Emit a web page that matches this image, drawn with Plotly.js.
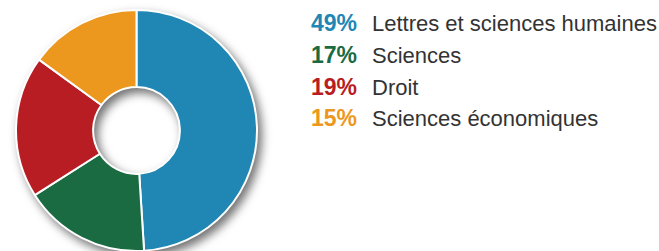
<!DOCTYPE html>
<html>
<head>
<meta charset="utf-8">
<script src="https://cdn.plot.ly/plotly-3.0.1.min.js"></script>
<style>
html,body{margin:0;padding:0;background:#fff;}
#chart{width:659px;height:251px;}
#chart .pielayer{filter:drop-shadow(4px 5px 5px rgba(0,0,0,0.55));}
</style>
</head>
<body>
<div id="chart"></div>
<script>
const categories = ["Lettres et sciences humaines", "Sciences", "Droit", "Sciences économiques"];
const values = [49, 17, 19, 15];
const pctLabels = ["49%", "17%", "19%", "15%"];
const colors = ["#2086b3", "#1a6b41", "#b81d23", "#ec981f"];

const trace = {
  type: "pie",
  values: values,
  labels: categories,
  sort: false,
  direction: "clockwise",
  rotation: 0,
  hole: 0.36,
  textinfo: "none",
  hoverinfo: "label+percent",
  marker: {colors: colors, line: {color: "#ffffff", width: 2}},
  domain: {x: [16/659, 257/659], y: [0, 241/251]},
  showlegend: false
};

const rowTop = 33.3;     // baseline of first row in px from top
const rowStep = 31.7;
const annotations = [];
categories.forEach((c, i) => {
  const yb = 1 - (rowTop + i * rowStep) / 251;
  annotations.push({
    xref: "paper", yref: "paper",
    x: 309/659, y: yb, xanchor: "left", yanchor: "bottom",
    yshift: -5,
    showarrow: false,
    text: "<b>" + pctLabels[i] + "</b>",
    font: {family: "Liberation Sans, Arial, sans-serif", size: 23, color: colors[i]}
  });
  annotations.push({
    xref: "paper", yref: "paper",
    x: 370/659, y: yb, xanchor: "left", yanchor: "bottom",
    yshift: -5,
    showarrow: false,
    text: c,
    font: {family: "Liberation Sans, Arial, sans-serif", size: 22, color: "#333333"}
  });
});

const layout = {
  width: 659, height: 251,
  margin: {l: 0, r: 0, t: 0, b: 0},
  paper_bgcolor: "#ffffff",
  plot_bgcolor: "#ffffff",
  annotations: annotations,
  showlegend: false
};

Plotly.newPlot("chart", [trace], layout, {displayModeBar: false, staticPlot: true});
</script>
</body>
</html>
